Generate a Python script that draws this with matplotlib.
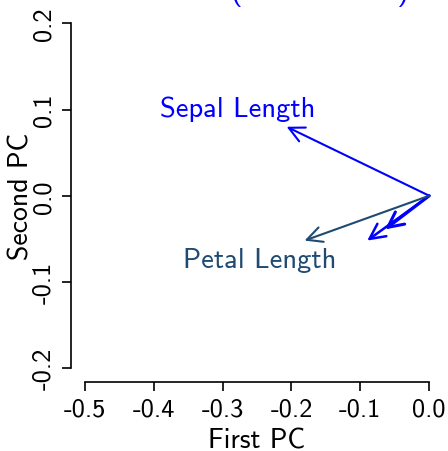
import matplotlib
matplotlib.use("Agg")
import matplotlib.pyplot as plt

# loadings on the first two PCs
variables = ["Sepal Length", "Sepal Width", "Petal Width", "Petal Length"]
pc1 = [-0.207, -0.090, -0.064, -0.181]
pc2 = [0.080, -0.052, -0.039, -0.052]
arrow_colors = ["#0000ff", "#0000ff", "#0000ff", "#1f4a72"]
arrow_widths = [1.5, 1.8, 2.2, 1.5]

# text labels, only two variables are labelled
label_names = ["Sepal Length", "Petal Length"]
label_x = [-0.278, -0.246]
label_y = [0.101, -0.0736]
label_colors = ["#0000ff", "#1f4a72"]

xticks = [-0.5, -0.4, -0.3, -0.2, -0.1, 0.0]
yticks = [-0.2, -0.1, 0.0, 0.1, 0.2]

plt.rcParams["font.family"] = ["cmss10", "DejaVu Sans"]
plt.rcParams["axes.unicode_minus"] = False

fig = plt.figure(figsize=(4.48, 4.52), dpi=100)
ax = fig.add_axes([71 / 448, 69 / 452, 372 / 448, 372.5 / 452])

for x, y, c, w in zip(pc1, pc2, arrow_colors, arrow_widths):
    ax.annotate("", xy=(x, y), xytext=(0, 0),
                arrowprops=dict(arrowstyle="->,head_length=1.1,head_width=0.55",
                                color=c, lw=w, mutation_scale=10,
                                shrinkA=0, shrinkB=0))

for name, x, y, c in zip(label_names, label_x, label_y, label_colors):
    ax.text(x, y, name, color=c, fontsize=20.5, ha="center", va="center")

ax.set_xlim(-0.52, 0.02)
ax.set_ylim(-0.216, 0.216)

for s in ["top", "right"]:
    ax.spines[s].set_visible(False)
ax.spines["left"].set_bounds(-0.2, 0.2)
ax.spines["bottom"].set_bounds(-0.5, 0.0)
for s in ["left", "bottom"]:
    ax.spines[s].set_linewidth(1.2)

ax.set_xticks(xticks)
ax.set_xticklabels([f"{v:.1f}" for v in xticks])
ax.set_yticks(yticks)
ax.set_yticklabels([f"{v:.1f}" for v in yticks], rotation=90, va="center")
ax.tick_params(length=6.5, width=1.2, labelsize=19, pad=5)

ax.set_xlabel("First PC", fontsize=20, labelpad=5)
ax.set_ylabel("Second PC", fontsize=20, labelpad=-1)

# title sits mostly above the figure, only the bottoms of the brackets show
fig.text(257 / 448, 1 + 1 / 452, "Variables (PC1 vs PC2)", color="#0000ff",
         fontsize=22, ha="center", va="baseline")

fig.savefig("out.png", dpi=100)
